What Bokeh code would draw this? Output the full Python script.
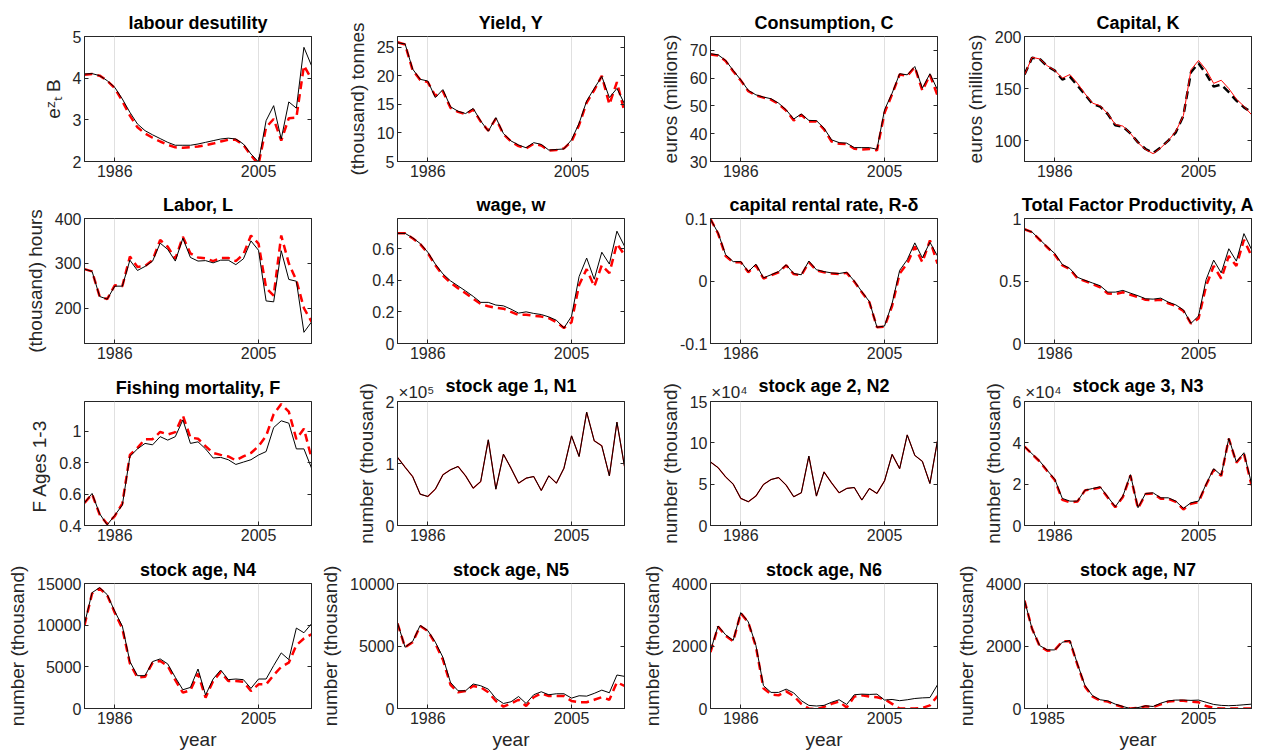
from bokeh.plotting import figure
from bokeh.layouts import gridplot
from bokeh.models import Range1d, FixedTicker, LinearAxis
from bokeh.embed import file_html
from bokeh.resources import INLINE

years = [1982, 1983, 1984, 1985, 1986, 1987, 1988, 1989, 1990, 1991, 1992,
         1993, 1994, 1995, 1996, 1997, 1998, 1999, 2000, 2001, 2002, 2003,
         2004, 2005, 2006, 2007, 2008, 2009, 2010, 2011, 2012]

# labour desutility
desut_data = [4.10, 4.11, 4.06, 3.94, 3.78, 3.50, 3.18, 2.90, 2.74, 2.64, 2.55,
              2.46, 2.39, 2.39, 2.39, 2.42, 2.46, 2.50, 2.54, 2.56, 2.54, 2.42,
              2.18, 1.99, 2.98, 3.34, 2.54, 3.43, 3.28, 4.74, 4.30]
desut_model = [4.08, 4.10, 4.06, 3.94, 3.76, 3.45, 3.10, 2.82, 2.67, 2.57, 2.48,
               2.40, 2.34, 2.33, 2.34, 2.36, 2.39, 2.43, 2.48, 2.52, 2.52, 2.40,
               2.15, 1.93, 2.82, 3.02, 2.50, 3.04, 3.05, 4.30, 3.98]
# Yield
yield_data = [25.8, 25.6, 21.2, 19.4, 19.1, 16.2, 17.6, 14.6, 13.8, 13.4, 14.3,
              12.1, 10.3, 12.7, 9.9, 8.6, 7.9, 7.4, 8.3, 8.0, 7.0, 7.1,
              7.2, 8.8, 11.7, 15.6, 17.8, 19.9, 16.2, 17.8, 15.1]
yield_model = [25.9, 25.5, 21.0, 19.3, 18.9, 16.5, 17.3, 14.4, 13.7, 13.3, 14.1,
               12.0, 10.4, 12.5, 9.8, 8.5, 7.7, 7.3, 8.1, 7.8, 6.9, 7.0,
               7.3, 8.5, 11.4, 15.3, 17.5, 20.0, 15.0, 18.9, 13.7]
# Consumption
cons_data = [68.8, 68.4, 66.4, 62.8, 59.4, 55.6, 54.0, 53.2, 52.6, 51.0, 48.6,
             45.3, 47.1, 44.8, 44.7, 42.0, 37.8, 36.8, 36.6, 35.0, 35.0, 35.0,
             34.4, 48.6, 54.6, 61.6, 61.2, 64.2, 56.4, 61.6, 55.8]
cons_model = [68.5, 68.2, 66.2, 62.5, 59.2, 55.3, 53.8, 53.0, 52.3, 50.7, 48.3,
              44.8, 46.8, 44.4, 44.4, 41.6, 37.2, 36.4, 36.3, 34.6, 34.3, 34.5,
              34.0, 47.5, 54.2, 61.3, 60.8, 64.0, 55.5, 61.2, 53.8]
# Capital
cap_data = [163.5, 179.5, 178.5, 171.5, 167.3, 158.7, 161.5, 152.9, 144.2, 135.3, 132.7,
            125.6, 114.7, 113.5, 107.0, 98.4, 92.0, 88.1, 93.6, 100.0, 108.0, 124.0,
            165.7, 174.4, 164.1, 151.9, 153.8, 146.5, 138.5, 132.0, 127.2]
cap_model = [163.0, 180.0, 178.5, 172.0, 167.5, 160.0, 163.5, 155.0, 145.0, 136.0, 133.5,
             126.0, 115.5, 114.0, 107.0, 98.0, 91.5, 87.5, 93.0, 100.0, 109.0, 124.0,
             168.0, 177.0, 168.0, 155.0, 158.0, 150.0, 140.0, 133.0, 125.0]
# Labor
labor_data = [287, 282, 226, 220, 249, 249, 307, 284, 293, 305, 345,
              331, 305, 356, 313, 305, 306, 301, 307, 307, 297, 310,
              350, 329, 216, 214, 328, 264, 260, 146, 169]
labor_model = [287, 282, 226, 220, 251, 249, 315, 292, 294, 307, 352,
               337, 310, 359, 322, 313, 311, 305, 312, 312, 305, 320,
               362, 344, 245, 228, 362, 300, 262, 200, 170]
# wage
wage_data = [0.696, 0.696, 0.668, 0.632, 0.577, 0.502, 0.440, 0.396, 0.364, 0.332, 0.298,
             0.260, 0.260, 0.243, 0.238, 0.217, 0.192, 0.200, 0.190, 0.183, 0.168, 0.147,
             0.098, 0.172, 0.423, 0.540, 0.406, 0.577, 0.502, 0.710, 0.615]
wage_model = [0.696, 0.696, 0.665, 0.628, 0.572, 0.495, 0.430, 0.385, 0.350, 0.318, 0.283,
              0.250, 0.235, 0.225, 0.220, 0.200, 0.180, 0.182, 0.175, 0.170, 0.160, 0.135,
              0.098, 0.135, 0.370, 0.470, 0.360, 0.495, 0.445, 0.630, 0.560]
# capital rental rate
rent_data = [0.099, 0.077, 0.042, 0.031, 0.031, 0.015, 0.027, 0.005, 0.010, 0.015, 0.026,
             0.012, 0.010, 0.032, 0.018, 0.015, 0.013, 0.012, 0.014, 0.000, -0.017, -0.033,
             -0.074, -0.072, -0.036, 0.017, 0.034, 0.061, 0.037, 0.062, 0.040]
rent_model = [0.099, 0.076, 0.040, 0.030, 0.030, 0.014, 0.025, 0.004, 0.009, 0.014, 0.025,
              0.011, 0.009, 0.030, 0.017, 0.014, 0.012, 0.011, 0.013, -0.001, -0.018, -0.034,
              -0.074, -0.073, -0.040, 0.012, 0.028, 0.055, 0.030, 0.065, 0.028]
# TFP
tfp_data = [0.914, 0.892, 0.833, 0.774, 0.720, 0.632, 0.600, 0.530, 0.505, 0.484, 0.462,
            0.411, 0.411, 0.425, 0.403, 0.382, 0.358, 0.355, 0.363, 0.331, 0.309, 0.269,
            0.161, 0.220, 0.511, 0.667, 0.565, 0.758, 0.659, 0.879, 0.753]
tfp_model = [0.914, 0.890, 0.830, 0.770, 0.710, 0.625, 0.595, 0.520, 0.500, 0.475, 0.450,
             0.400, 0.395, 0.410, 0.390, 0.372, 0.350, 0.345, 0.350, 0.322, 0.300, 0.260,
             0.160, 0.200, 0.460, 0.620, 0.520, 0.700, 0.620, 0.830, 0.700]
# Fishing mortality
fmort_data = [0.544, 0.604, 0.475, 0.404, 0.465, 0.530, 0.840, 0.888, 0.923, 0.914, 0.966,
              0.944, 0.966, 1.073, 0.923, 0.933, 0.888, 0.830, 0.834, 0.819, 0.789, 0.804,
              0.819, 0.849, 0.871, 1.024, 1.067, 1.052, 0.888, 0.888, 0.766]
fmort_model = [0.544, 0.600, 0.470, 0.410, 0.460, 0.540, 0.850, 0.895, 0.950, 0.950, 0.996,
               0.980, 0.995, 1.100, 0.960, 0.953, 0.905, 0.862, 0.850, 0.840, 0.815, 0.840,
               0.862, 0.905, 0.970, 1.110, 1.174, 1.125, 0.950, 1.017, 0.830]
# stock age 1 (x 1e5)
n1_data = [1.100, 0.940, 0.790, 0.505, 0.468, 0.586, 0.817, 0.898, 0.952, 0.801, 0.602,
           0.710, 1.382, 0.586, 1.150, 0.925, 0.683, 0.763, 0.790, 0.565, 0.801, 0.683,
           0.925, 1.446, 1.113, 1.828, 1.366, 1.285, 0.801, 1.667, 0.952]
n1_model = [1.100, 0.940, 0.790, 0.505, 0.468, 0.586, 0.817, 0.898, 0.952, 0.801, 0.602,
            0.710, 1.382, 0.586, 1.150, 0.925, 0.683, 0.763, 0.790, 0.565, 0.801, 0.683,
            0.925, 1.446, 1.113, 1.828, 1.366, 1.285, 0.801, 1.667, 0.952]
# stock age 2 (x 1e4)
n2_data = [7.68, 7.00, 5.88, 5.00, 3.28, 2.88, 3.56, 4.96, 5.56, 5.80, 4.88,
           3.48, 3.96, 8.40, 3.56, 6.48, 5.16, 3.96, 4.48, 4.60, 3.08, 4.48,
           3.88, 5.40, 8.60, 6.88, 10.96, 8.48, 7.76, 5.08, 10.28]
n2_model = [7.68, 7.00, 5.88, 5.00, 3.28, 2.88, 3.56, 4.96, 5.56, 5.80, 4.88,
            3.48, 3.96, 8.40, 3.56, 6.48, 5.16, 3.96, 4.48, 4.60, 3.08, 4.48,
            3.88, 5.40, 8.60, 6.88, 10.96, 8.48, 7.76, 5.08, 10.28]
# stock age 3 (x 1e4)
n3_data = [3.82, 3.47, 3.12, 2.67, 2.24, 1.31, 1.18, 1.18, 1.71, 1.79, 1.87,
           1.39, 0.91, 1.42, 2.46, 0.86, 1.55, 1.58, 1.34, 1.34, 1.18, 0.83,
           1.10, 1.18, 2.00, 2.75, 2.43, 4.22, 3.07, 3.52, 2.03]
n3_model = [3.82, 3.45, 3.10, 2.64, 2.20, 1.24, 1.12, 1.16, 1.70, 1.76, 1.84,
            1.35, 0.88, 1.38, 2.42, 0.82, 1.52, 1.55, 1.30, 1.30, 1.14, 0.78,
            1.05, 1.14, 1.96, 2.70, 2.40, 4.20, 3.04, 3.48, 1.95]
# stock age N4
n4_data = [10170, 13900, 14510, 13670, 11660, 9890, 5630, 3940, 3940, 5630, 5950,
           5350, 3740, 2250, 2530, 4740, 1610, 3540, 4620, 3460, 3540, 3460,
           2410, 3540, 3540, 5150, 6670, 5870, 9650, 9090, 10170]
n4_model = [10000, 13800, 14400, 13600, 11500, 9600, 5400, 3700, 3800, 5500, 5700,
            5100, 3400, 1900, 2200, 4200, 1300, 3300, 4400, 3300, 3300, 3200,
            2100, 2900, 2900, 4000, 5000, 5500, 7600, 8400, 8900]
# stock age N5
n5_data = [6860, 4900, 5360, 6650, 6240, 5310, 4100, 2090, 1420, 1420, 1960,
           1820, 1550, 800, 400, 540, 960, 400, 1100, 1340, 1100, 1180,
           1180, 830, 1020, 990, 1210, 1470, 1260, 2680, 2570]
n5_model = [6800, 4900, 5300, 6600, 6200, 5200, 3900, 1900, 1300, 1400, 1800,
            1700, 1300, 600, 150, 400, 700, 200, 900, 1200, 1000, 1000,
            1000, 600, 500, 500, 700, 900, 700, 2100, 1800]
# stock age N6
n6_data = [1850, 2640, 2360, 2180, 3070, 2770, 2020, 730, 515, 515, 620,
           500, 250, 100, 80, 100, 200, 280, 130, 440, 460, 450,
           460, 270, 290, 250, 280, 320, 340, 350, 760]
n6_model = [1800, 2620, 2330, 2150, 3050, 2750, 1980, 650, 450, 420, 550,
            400, 150, 0, -30, 50, 150, 220, 30, 380, 420, 380,
            360, 300, 150, 0, 0, 0, 20, 100, 400]
# stock age N7
n7_data = [3460, 2550, 2015, 1875, 1875, 2120, 2175, 1425, 730, 410, 280,
           245, 140, 65, 0, 30, 85, 65, 170, 245, 270, 270,
           260, 270, 200, 130, 100, 90, 100, 120, 140]
n7_model = [3450, 2550, 2000, 1850, 1870, 2150, 2150, 1400, 700, 380, 250,
            220, 120, 50, 0, 20, 70, 50, 130, 220, 240, 250,
            220, 200, 80, 20, 0, 0, 0, 0, 0]

titles = ["labour desutility", "Yield, Y", "Consumption, C", "Capital, K",
          "Labor, L", "wage, w", "capital rental rate, R-\u03b4", "Total Factor Productivity, A",
          "Fishing mortality, F", "stock age 1, N1", "stock age 2, N2", "stock age 3, N3",
          "stock age, N4", "stock age, N5", "stock age, N6", "stock age, N7"]
ylabels = ["e\u1dbb\u209c B", "(thousand) tonnes", "euros (millions)", "euros (millions)",
           "(thousand) hours", "", "", "",
           "F  Ages 1-3", "number (thousand)", "number (thousand)", "number (thousand)",
           "number (thousand)", "number (thousand)", "number (thousand)", "number (thousand)"]
ylims = [(2, 5), (5, 26.9), (30, 75), (80, 200),
         (121, 400), (0, 0.79), (-0.1, 0.1), (0, 1),
         (0.4, 1.19), (0, 2), (0, 15), (0, 6),
         (0, 15000), (0, 10000), (0, 4000), (0, 4000)]
yticks = [[2, 3, 4, 5], [5, 10, 15, 20, 25], [30, 40, 50, 60, 70], [100, 150, 200],
          [200, 300, 400], [0, 0.2, 0.4, 0.6], [-0.1, 0, 0.1], [0, 0.5, 1],
          [0.4, 0.6, 0.8, 1], [0, 1, 2], [0, 5, 10, 15], [0, 2, 4, 6],
          [0, 5000, 10000, 15000], [0, 5000, 10000], [0, 2000, 4000], [0, 2000, 4000]]
ytick_labels = [["2", "3", "4", "5"], ["5", "10", "15", "20", "25"], ["30", "40", "50", "60", "70"],
                ["100", "150", "200"], ["200", "300", "400"], ["0", "0.2", "0.4", "0.6"],
                ["-0.1", "0", "0.1"], ["0", "0.5", "1"], ["0.4", "0.6", "0.8", "1"],
                ["0", "1", "2"], ["0", "5", "10", "15"], ["0", "2", "4", "6"],
                ["0", "5000", "10000", "15000"], ["0", "5000", "10000"],
                ["0", "2000", "4000"], ["0", "2000", "4000"]]
xticks_default = [1986, 2005]
xticks_n7 = [1985, 2005]
exponents = {9: "\u00d710\u2075", 10: "\u00d710\u2074", 11: "\u00d710\u2074"}
xlabel = "year"

series_data = [desut_data, yield_data, cons_data, cap_data, labor_data, wage_data, rent_data, tfp_data,
               fmort_data, n1_data, n2_data, n3_data, n4_data, n5_data, n6_data, n7_data]
series_model = [desut_model, yield_model, cons_model, cap_model, labor_model, wage_model, rent_model,
                tfp_model, fmort_model, n1_model, n2_model, n3_model, n4_model, n5_model, n6_model, n7_model]

FONT = "Liberation Sans"
AX = "#262626"

col_geo = [(315, 84, 4), (315, 82, 6), (315, 80, 8), (318, 79, 12)]
row_geo = [(183, 36, 22), (181, 35, 21), (182, 37, 21), (210, 37, 48)]

figs = []
for i in range(16):
    r, c = divmod(i, 4)
    w, bl, br = col_geo[c]
    h, bt, bb = row_geo[r]
    xt = xticks_n7 if i == 15 else xticks_default
    p = figure(width=w, height=h, output_backend="svg", toolbar_location=None,
               x_range=Range1d(1982, 2012), y_range=Range1d(*ylims[i]),
               min_border_left=bl, min_border_right=br, min_border_top=bt, min_border_bottom=bb,
               background_fill_color="white", border_fill_color="white")
    p.title.text = titles[i]
    p.title.text_font = FONT
    p.title.text_font_size = "18px"
    p.title.text_font_style = "bold"
    p.title.text_color = "black"
    p.title.align = "center"
    p.title.standoff = 7
    p.outline_line_color = AX
    p.outline_line_width = 1

    for ax in (p.xaxis[0], p.yaxis[0]):
        ax.major_tick_in = 4
        ax.major_tick_out = 0
        ax.minor_tick_line_color = None
        ax.axis_line_color = AX
        ax.major_tick_line_color = AX
        ax.major_label_text_color = AX
        ax.major_label_text_font = FONT
        ax.major_label_text_font_size = "16px"
        ax.axis_label_text_font = FONT
        ax.axis_label_text_font_size = "19px"
        ax.axis_label_text_font_style = "normal"
        ax.axis_label_text_color = AX
        ax.major_label_standoff = 3
    p.xaxis[0].ticker = FixedTicker(ticks=xt)
    p.yaxis[0].ticker = FixedTicker(ticks=yticks[i])
    p.yaxis[0].major_label_overrides = {t: s for t, s in zip(yticks[i], ytick_labels[i])}
    p.yaxis[0].axis_label = ylabels[i] if ylabels[i] else None
    p.yaxis[0].axis_label_standoff = 6
    if r == 3:
        p.xaxis[0].axis_label = xlabel
        p.xaxis[0].axis_label_standoff = 2

    rax = LinearAxis(ticker=FixedTicker(ticks=yticks[i]), major_tick_in=4, major_tick_out=0,
                     minor_tick_line_color=None, axis_line_color=AX, major_tick_line_color=AX,
                     major_label_text_color=None, major_label_text_font_size="1px",
                     major_label_standoff=0)
    p.add_layout(rax, "right")

    if i in exponents:
        # exponent label just above the top-left corner of the frame
        exp_pos = 1982 + 2.5
        tax = LinearAxis(ticker=FixedTicker(ticks=[exp_pos]), major_tick_in=0, major_tick_out=0,
                         minor_tick_line_color=None, axis_line_color=None,
                         major_tick_line_color=None,
                         major_label_overrides={exp_pos: exponents[i]},
                         major_label_text_font=FONT,
                         major_label_text_font_size="17px", major_label_text_color=AX,
                         major_label_standoff=0)
        p.add_layout(tax, "above")
        p.title.standoff = -33

    p.xgrid.ticker = FixedTicker(ticks=xt)
    p.xgrid.grid_line_color = "#e0e0e0"
    p.xgrid.grid_line_width = 1
    p.ygrid.visible = False

    if i == 3:
        p.line(years, series_data[i], color="black", line_width=2.5, line_dash="8 5")
        p.line(years, series_model[i], color="red", line_width=1)
    elif i in (9, 10):
        p.line(years, series_model[i], color="red", line_width=1.2)
        p.line(years, series_data[i], color="black", line_width=1)
    else:
        p.line(years, series_model[i], color="red", line_width=2.5, line_dash="8 5")
        p.line(years, series_data[i], color="black", line_width=1)

    figs.append(p)

grid = gridplot([figs[0:4], figs[4:8], figs[8:12], figs[12:16]], toolbar_location=None)
open("out.html", "w").write(file_html(grid, INLINE))
